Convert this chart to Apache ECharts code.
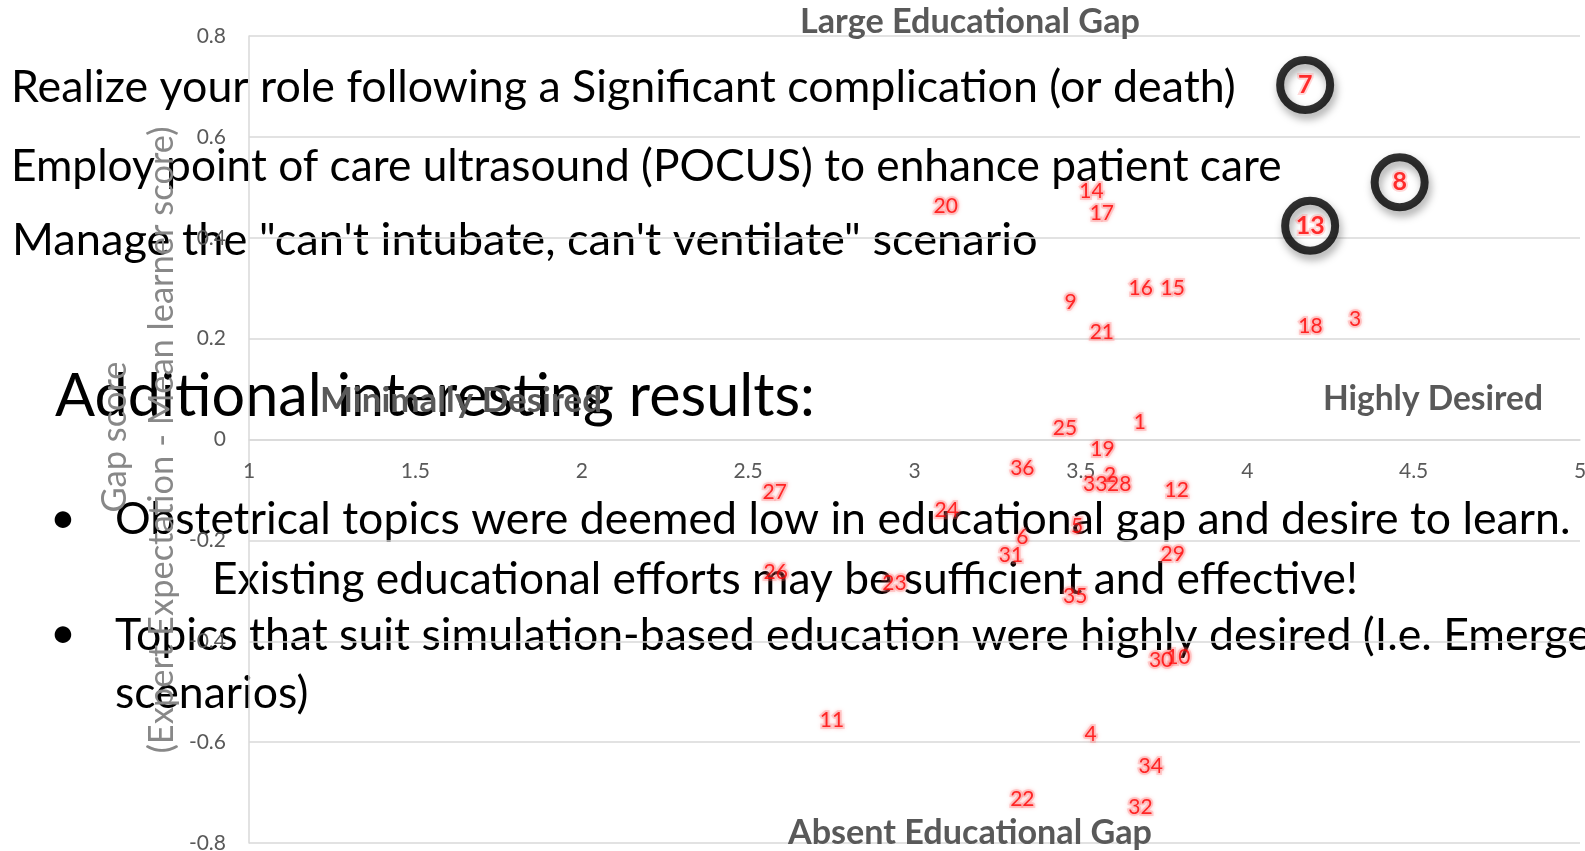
<!DOCTYPE html>
<html>
<head>
<meta charset="utf-8">
<script src="https://cdn.jsdelivr.net/npm/echarts@6/dist/echarts.min.js"></script>
<style>
  html, body { margin: 0; padding: 0; background: #ffffff; }
  #chart { width: 1585px; height: 851px; }
</style>
</head>
<body>
<div id="chart"></div>
<script>
// ---- Data ----
const topicIds      = ['1','2','3','4','5','6','7','8','9','10','11','12','13','14','15','16','17','18','19','20','21','22','23','24','25','26','27','28','29','30','31','32','33','34','35','36'];
const desireScores  = [3.677,3.588,4.324,3.529,3.489,3.324,4.174,4.458,3.469,3.793,2.752,3.788,4.189,3.532,3.776,3.680,3.563,4.190,3.565,3.094,3.563,3.324,2.940,3.097,3.452,2.583,2.580,3.615,3.776,3.741,3.290,3.679,3.543,3.710,3.483,3.324];
const gapScores     = [0.034,-0.070,0.239,-0.584,-0.172,-0.194,0.703,0.510,0.273,-0.431,-0.556,-0.101,0.424,0.492,0.299,0.300,0.448,0.225,-0.019,0.463,0.212,-0.714,-0.285,-0.140,0.022,-0.264,-0.104,-0.088,-0.228,-0.437,-0.230,-0.729,-0.088,-0.647,-0.311,-0.056];
const highlightedIds = ['7','8','13'];
const xTicks = { min: 1, max: 5, step: 0.5 };
const yTicks = { min: -0.8, max: 0.8, step: 0.2 };
const yAxisTitle = ['Gap score', '(Expert Expectation - Mean learner score)'];
const quadrantLabels = ['Large Educational Gap', 'Absent Educational Gap', 'Minimally Desired', 'Highly Desired'];
const slideLines = [
  'Realize your role following a Significant complication (or death)',
  'Employ point of care ultrasound (POCUS) to enhance patient care',
  'Manage the "can\'t intubate, can\'t ventilate" scenario',
  'Additional interesting results:',
  'Obstetrical topics were deemed low in educational gap and desire to learn.',
  'Existing educational efforts may be sufficient and effective!',
  'Topics that suit simulation-based education were highly desired (I.e. Emergency',
  'scenarios)'
];

// ---- helpers ----
const FAMILY = 'Lato';
const mctx = document.createElement('canvas').getContext('2d');
function fitSize(text, weight, width) {
  mctx.font = weight + ' 100px ' + FAMILY;
  return 100 * width / mctx.measureText(text).width;
}

const plainPts = [], hiPts = [];
topicIds.forEach((id, i) => {
  const d = { name: id, value: [desireScores[i], gapScores[i]] };
  (highlightedIds.includes(id) ? hiPts : plainPts).push(d);
});

// slide text (drawn beneath the chart)
const bodySize = fitSize(slideLines[4], 'normal', 1456);
const slideSpec = [
  { t: slideLines[0], x: 11, y: 88,  s: fitSize(slideLines[0], 'normal', 1225) },
  { t: slideLines[1], x: 11, y: 167, s: fitSize(slideLines[1], 'normal', 1271) },
  { t: slideLines[2], x: 12, y: 240, s: fitSize(slideLines[2], 'normal', 1026) },
  { t: slideLines[3], x: 55, y: 397, s: fitSize(slideLines[3], 'normal', 760) },
  { t: '\u2022',      x: 63, y: 519, s: bodySize, c: true },
  { t: slideLines[4], x: 115, y: 520, s: bodySize },
  { t: slideLines[5], x: 212, y: 580, s: fitSize(slideLines[5], 'normal', 1146) },
  { t: '\u2022',      x: 63, y: 634, s: bodySize, c: true },
  { t: slideLines[6], x: 115, y: 636, s: bodySize },
  { t: slideLines[7], x: 115, y: 694, s: bodySize }
];
const graphics = slideSpec.map(o => ({
  type: 'text', x: o.x, y: o.y, z: -10, silent: true,
  style: { text: o.t, fill: '#000000', fontSize: o.s, fontFamily: FAMILY,
           textAlign: o.c ? 'center' : 'left', textVerticalAlign: 'middle',
           align: o.c ? 'center' : 'left', verticalAlign: 'middle' }
}));

// quadrant captions (bold grey)
const quadSpec = [
  { t: quadrantLabels[0], x: 800, y: 22,  w: 340 },
  { t: quadrantLabels[1], x: 788, y: 833, w: 364 },
  { t: quadrantLabels[2], x: 320, y: 401, w: 282 },
  { t: quadrantLabels[3], x: 1323, y: 399, w: 220 }
];
quadSpec.forEach(o => graphics.push({
  type: 'text', x: o.x, y: o.y, z: 20, silent: true,
  style: { text: o.t, fill: '#595959', fontSize: fitSize(o.t, 'bold', o.w), fontWeight: 'bold', fontFamily: FAMILY,
           textAlign: 'left', textVerticalAlign: 'middle', align: 'left', verticalAlign: 'middle' }
}));

// y-axis title (rotated, two lines)
const ySize = fitSize(yAxisTitle[1], 'normal', 627);
[[yAxisTitle[0], 115, 437], [yAxisTitle[1], 162, 440]].forEach(([t, x, y]) => graphics.push({
  type: 'text', x: x, y: y, rotation: Math.PI / 2, z: 15, silent: true,
  style: { text: t, fill: '#888888', fontSize: ySize, fontFamily: FAMILY,
           textAlign: 'center', textVerticalAlign: 'middle', align: 'center', verticalAlign: 'middle' }
}));

const chart = echarts.init(document.getElementById('chart'), null, { renderer: 'canvas' });
const gridColor = '#d9d9d9';
const GRID_TOP = 36, GRID_BOTTOM = 8, H = 851;
const plotH = H - GRID_TOP - GRID_BOTTOM;
// distance from the bottom edge of the plot to the y = 0 line
const zeroOffset = plotH * (0 - yTicks.min) / (yTicks.max - yTicks.min);
chart.setOption({
  animation: false,
  backgroundColor: 'transparent',
  grid: { left: 249, right: 5, top: GRID_TOP, bottom: GRID_BOTTOM, containLabel: false, outerBoundsMode: 'none' },
  xAxis: {
    type: 'value', min: xTicks.min, max: xTicks.max, interval: xTicks.step,
    position: 'bottom', offset: -zeroOffset,
    axisLine: { show: true, onZero: false, lineStyle: { color: gridColor, width: 1.5 } },
    axisTick: { show: false },
    splitLine: { show: false },
    axisLabel: { show: true, margin: 21, color: '#595959', fontSize: 21, fontFamily: FAMILY,
                 showMinLabel: true, showMaxLabel: true }
  },
  yAxis: {
    type: 'value', min: yTicks.min, max: yTicks.max, interval: yTicks.step,
    axisLine: { show: true, onZero: false, lineStyle: { color: gridColor, width: 1.5 } },
    axisTick: { show: false },
    splitLine: { show: true, lineStyle: { color: gridColor, width: 1.5 } },
    axisLabel: { margin: 23, color: '#595959', fontSize: 21, fontFamily: FAMILY,
                 formatter: v => String(Math.round(v * 10) / 10) }
  },
  graphic: { elements: graphics },
  series: [
    {
      type: 'scatter', name: 'Topics', data: plainPts, symbolSize: 2,
      itemStyle: { color: 'rgba(0,0,0,0)' },
      label: { show: true, position: 'inside', formatter: p => p.name, color: '#ff0000',
               fontSize: 21, fontFamily: FAMILY,
               textBorderColor: 'rgba(255,110,110,0.35)', textBorderWidth: 4,
               textShadowColor: 'rgba(255,60,60,0.45)', textShadowBlur: 4 },
      emphasis: { disabled: true }, z: 5
    },
    {
      type: 'scatter', name: 'Highlighted', data: hiPts, symbol: 'circle', symbolSize: 50,
      itemStyle: { color: 'rgba(0,0,0,0)', borderColor: '#000000', borderWidth: 8,
                   shadowColor: 'rgba(0,0,0,0.45)', shadowBlur: 8, shadowOffsetX: 2, shadowOffsetY: 5 },
      label: { show: true, position: 'inside', formatter: p => p.name, color: '#ff0000',
               fontSize: 25, fontWeight: 'bold', fontFamily: FAMILY,
               textBorderColor: 'rgba(255,110,110,0.35)', textBorderWidth: 4 },
      emphasis: { disabled: true }, z: 6
    }
  ]
});
</script>
</body>
</html>
